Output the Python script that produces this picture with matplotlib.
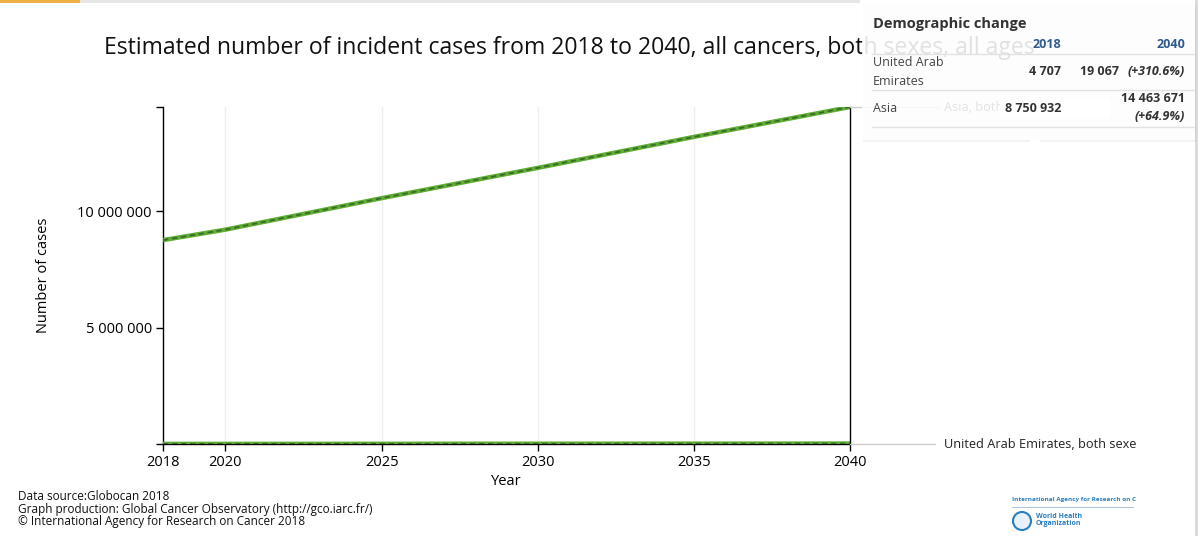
import matplotlib.pyplot as plt
from matplotlib.patches import Rectangle, Circle, Polygon
from matplotlib.lines import Line2D
from matplotlib.transforms import IdentityTransform

plt.rcParams['font.family'] = ['Open Sans', 'DejaVu Sans']

# Données
years = [2018, 2020, 2025, 2030, 2035, 2040]
asia = [8750932, 9200000, 10550000, 11850000, 13180000, 14463671]
uae = [4707, 5600, 8300, 11600, 15200, 19067]

xticks = [2018, 2020, 2025, 2030, 2035, 2040]
yticks = [0, 5000000, 10000000, 14463671]
ytick_labels = ['', '5 000 000', '10 000 000', '']

title = "Estimated number of incident cases from 2018 to 2040, all cancers, both sexes, all ages"
footer = ("Data source:Globocan 2018\n"
          "Graph production: Global Cancer Observatory (http://gco.iarc.fr/)\n"
          "\u00a9 International Agency for Research on Cancer 2018")

W, H = 1200, 536
fig = plt.figure(figsize=(12, 5.36), dpi=100)
ax = fig.add_axes([163 / W, 1 - 444 / H, (850 - 163) / W, (444 - 107) / H])

green = '#5fae34'
dark = '#3b6a28'
for series in (asia, uae):
    ax.plot(years, series, color=green, lw=3.2, solid_capstyle='butt', zorder=3)
    ax.plot(years, series, color=dark, lw=1.3, dashes=(3, 2), zorder=4)

ax.set_xlim(2018, 2040)
ax.set_ylim(0, 14463671)
ax.set_xticks(xticks)
ax.set_yticks(yticks)
ax.set_yticklabels(ytick_labels)
ax.tick_params(labelsize=10.5, length=5, width=1, color='black', pad=3)
for sp in ('top', 'right'):
    ax.spines[sp].set_visible(False)
ax.spines['left'].set_linewidth(1)
ax.spines['bottom'].set_linewidth(1)
ax.set_xlabel('Year', fontsize=10.5, labelpad=3)
ax.set_ylabel('Number of cases', fontsize=10.5)
ax.yaxis.set_label_coords(-0.163, 0.5)
for x in [2020, 2025, 2030, 2035]:
    ax.axvline(x, color='#eeeeee', lw=1, zorder=1)
ax.axvline(2040, color='black', lw=1, zorder=5, clip_on=False)


def fx(px):
    return px / W


def fy(py):
    return 1 - py / H


# lignes de renvoi vers les étiquettes
fig.add_artist(Line2D([fx(850), fx(935)], [fy(444)] * 2, color='#cccccc', lw=1))
fig.add_artist(Line2D([fx(850), fx(940)], [fy(107)] * 2, color='#cccccc', lw=1))
fig.text(fx(944), fy(444), 'United Arab Emirates, both sexe', fontsize=9.2, va='center', color='#222222')
fig.text(fx(944), fy(107), 'Asia, both sexes, all ages', fontsize=9.2, va='center', color='#222222')

fig.text(fx(104), fy(48), title, fontsize=16.6, va='center', color='#111111')

# barres du haut
fig.add_artist(Rectangle((0, fy(3)), fx(860), 3 / H, color='#e6e6e6', lw=0))
fig.add_artist(Rectangle((0, fy(3)), fx(80), 3 / H, color='#f0b14a', lw=0))
fig.add_artist(Line2D([fx(1196)] * 2, [0, 1], color='#d8d8d8', lw=2))

# infobulle (au-dessus du titre et des étiquettes)
fig.add_artist(Rectangle((fx(863), fy(142)), 333 / W, 137 / H, fc='black', alpha=0.05, lw=0, zorder=10))
fig.add_artist(Rectangle((fx(862), fy(140)), 333 / W, 135 / H, fc='white', alpha=0.88, lw=0, zorder=11))
fig.add_artist(Polygon([(fx(1029), fy(140)), (fx(1041), fy(140)), (fx(1035), fy(146))],
                       closed=True, fc='white', lw=0, zorder=11))

tz = 12
dark_txt = '#333333'
fig.text(fx(873), fy(24), 'Demographic change', fontsize=10.5, fontweight='bold', va='center',
         color=dark_txt, zorder=tz)
blue = '#2e5a8c'
fig.text(fx(1061), fy(45), '2018', fontsize=9, fontweight='bold', ha='right', va='center', color=blue, zorder=tz)
fig.text(fx(1185), fy(45), '2040', fontsize=9, fontweight='bold', ha='right', va='center', color=blue, zorder=tz)
for yy in (54, 90, 127):
    fig.add_artist(Line2D([fx(872), fx(1194)], [fy(yy)] * 2, color='#e2e2e2', lw=1, zorder=tz))
fig.text(fx(873), fy(72), 'United Arab\nEmirates', fontsize=9, va='center', color='#444444',
         linespacing=1.6, zorder=tz)
fig.text(fx(1061), fy(72), '4 707', fontsize=9, fontweight='bold', ha='right', va='center',
         color=dark_txt, zorder=tz)
fig.text(fx(1185), fy(72), '(+310.6%)', fontsize=9, fontweight='bold', style='italic',
         ha='right', va='center', color=dark_txt, zorder=tz)
fig.text(fx(1119), fy(72), '19 067', fontsize=9, fontweight='bold', ha='right', va='center',
         color=dark_txt, zorder=tz)
fig.text(fx(873), fy(108), 'Asia', fontsize=9, va='center', color='#444444', zorder=tz)
fig.add_artist(Rectangle((fx(1000), fy(118)), 110 / W, 20 / H, fc='white', lw=0, zorder=tz))
fig.text(fx(1061), fy(108), '8 750 932', fontsize=9, fontweight='bold', ha='right', va='center',
         color=dark_txt, zorder=tz + 1)
fig.text(fx(1185), fy(99), '14 463 671', fontsize=9, fontweight='bold', ha='right', va='center',
         color=dark_txt, zorder=tz + 1)
fig.text(fx(1185), fy(117), '(+64.9%)', fontsize=9, fontweight='bold', style='italic',
         ha='right', va='center', color=dark_txt, zorder=tz + 1)

# pied de page
fig.text(fx(18), fy(509), footer, fontsize=8.5, va='center', linespacing=0.95, color='#111111')

# logo
logo_blue = '#2a7fc1'
fig.text(fx(1012), fy(500), 'International Agency for Research on C', fontsize=4.6, fontweight='bold',
         va='center', color=logo_blue)
fig.add_artist(Line2D([fx(1012), fx(1133)], [fy(507)] * 2, color='#9bbbd8', lw=0.6))
fig.add_artist(Circle((1022, H - 521), 9, fc='#e8f1fa', ec=logo_blue, lw=1.5,
                      transform=IdentityTransform()))
fig.text(fx(1036), fy(520), 'World Health\nOrganization', fontsize=5, fontweight='bold',
         va='center', color=logo_blue, linespacing=0.9)

fig.savefig('out.png', dpi=100, facecolor='white')
